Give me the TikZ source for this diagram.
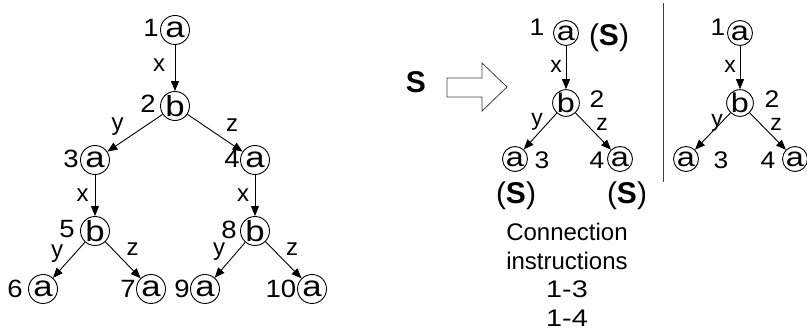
\documentclass[tikz,border=0pt]{standalone}
\usepackage{fontspec}
\setmainfont{Liberation Sans}
\newfontfamily\widefont{Liberation Sans}[FakeStretch=1.2]
\newfontfamily\digfont{Liberation Sans}[FakeStretch=1.1]
\usetikzlibrary{arrows.meta}
\begin{document}
\begin{tikzpicture}[x=1pt,y=-1pt,
  vtx/.style={circle,draw,line width=0.9pt,inner sep=0pt,minimum size=29pt,font=\widefont\fontsize{29}{32}\selectfont},
  vtxs/.style={circle,draw,line width=0.9pt,inner sep=0pt,minimum size=25pt,font=\widefont\fontsize{27}{30}\selectfont},
  lbl/.style={anchor=base,inner sep=0pt,font=\fontsize{24}{28}\selectfont},
  dlbl/.style={anchor=base,inner sep=0pt,font=\digfont\fontsize{25}{28}\selectfont},
  lbls/.style={anchor=base,inner sep=0pt,font=\fontsize{23}{27}\selectfont},
  dlbls/.style={anchor=base,inner sep=0pt,font=\digfont\fontsize{24}{27}\selectfont},
  sl/.style={anchor=base,inner sep=0pt,font=\fontsize{30}{33}\selectfont},
  conn/.style={draw,line width=0.9pt,-{Triangle[length=10pt,width=8pt]}}]
\useasboundingbox (0,0) rectangle (807,331);
% left tree
\node[vtx] (n1) at (175,30) {a};
\node[vtx] (n2) at (175,106) {b};
\node[vtx] (n3) at (95,160) {a};
\node[vtx] (n4) at (255,160) {a};
\node[vtx] (n5) at (95,231) {b};
\node[vtx] (n8) at (255,231) {b};
\node[vtx] (n6) at (43,289) {a};
\node[vtx] (n7) at (151,289) {a};
\node[vtx] (n9) at (205,289) {a};
\node[vtx] (n10) at (312,289) {a};
\draw[conn] (n1) -- (n2);
\draw[conn] (n2) -- (n3);
\draw[conn] (n2) -- (n4);
\draw[conn] (n3) -- (n5);
\draw[conn] (n4) -- (n8);
\draw[conn] (n5) -- (n6);
\draw[conn] (n5) -- (n7);
\draw[conn] (n8) -- (n9);
\draw[conn] (n8) -- (n10);
\node[dlbl] (l1) at (151,37) {1};
\node[dlbl] (l2) at (148,113) {2};
\node[dlbl] (l3) at (71,168) {3};
\node[dlbl] (l4) at (232,168) {4};
\node[dlbl] (l5) at (67,238) {5};
\node[dlbl] (l8) at (229,239) {8};
\node[dlbl] (l6) at (15,298) {6};
\node[dlbl] (l7) at (128,298) {7};
\node[dlbl] (l9) at (182,298) {9};
\node[dlbl] (l10) at (281,298) {10};
\node[lbl] (e12) at (159,72) {x};
\node[lbl] (e23) at (117.5,131) {y};
\node[lbl] (e24) at (232,132) {z};
\node[lbl] (e35) at (82.5,202) {x};
\node[lbl] (e48) at (243,202) {x};
\node[lbl] (e56) at (57,258) {y};
\node[lbl] (e57) at (132.5,256) {z};
\node[lbl] (e89) at (219,256) {y};
\node[lbl] (e810) at (292,256) {z};
% S and block arrow
\node[anchor=base,inner sep=0pt,font=\fontsize{30}{33}\selectfont\bfseries] (bigS) at (416,93) {S};
\draw[line width=0.8pt,draw=black!75] (447,78) -- (482,78) -- (482,63) -- (507,87) -- (482,111) -- (482,97) -- (447,97) -- cycle;
% right tree 1
\node[vtxs] (r1) at (566,33) {a};
\node[vtxs] (r2) at (566,103) {b};
\node[vtxs] (r3) at (515,159) {a};
\node[vtxs] (r4) at (620,159) {a};
\draw[conn] (r1) -- (r2);
\draw[conn] (r2) -- (r3);
\draw[conn] (r2) -- (r4);
\node[dlbls] (rl1) at (537,36) {1};
\node[dlbls] (rl2) at (597,108) {2};
\node[dlbls] (rl3) at (542,169) {3};
\node[dlbls] (rl4) at (597,169) {4};
\node[lbls] (re12) at (556,73) {x};
\node[lbls] (re23) at (537,126) {y};
\node[lbls] (re24) at (602,131) {z};
\node[sl] (s1) at (609,46) {(\textbf{S})};
\node[sl] (s3) at (516,204) {(\textbf{S})};
\node[sl] (s4) at (627,204) {(\textbf{S})};
\node[anchor=north,inner sep=0pt,align=center,font=\fontsize{24}{28.7}\selectfont] (ci) at (567,223) {Connection\\instructions\\{\widefont 1-3}\\{\widefont 1-4}};
% separator
\coordinate (sepT) at (663,3);
\coordinate (sepB) at (663,182);
\draw[line width=0.9pt,black!75] (sepT) -- (sepB);
% right tree 2
\node[vtxs] (t1) at (740,33) {a};
\node[vtxs] (t2) at (740,103) {b};
\node[vtxs] (t3) at (686,159) {a};
\node[vtxs] (t4) at (795,159) {a};
\draw[conn] (t1) -- (t2);
\draw[conn] (t2) -- (t3);
\draw[conn] (t2) -- (t4);
\node[dlbls] (tl1) at (718,36) {1};
\node[dlbls] (tl2) at (772,108) {2};
\node[dlbls] (tl3) at (721,169) {3};
\node[dlbls] (tl4) at (768,169) {4};
\node[lbls] (te12) at (730,73) {x};
\node[lbls] (te23) at (717,127) {y};
\node[lbls] (te24) at (776,131) {z};
\end{tikzpicture}
\end{document}
